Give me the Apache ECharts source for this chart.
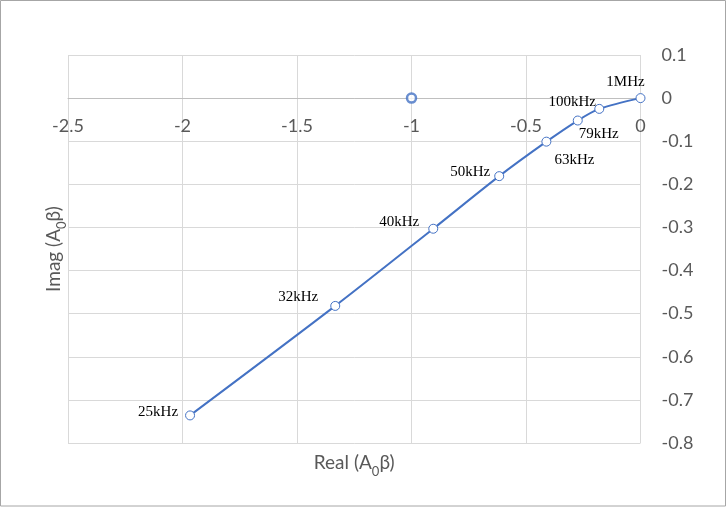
<!DOCTYPE html>
<html>
<head>
<meta charset="utf-8">
<script src="https://cdn.jsdelivr.net/npm/echarts@6/dist/echarts.min.js"></script>
<style>
  html, body { margin: 0; padding: 0; background: #fff; }
  #chart { width: 727px; height: 507px; }
</style>
</head>
<body>
<div id="chart"></div>
<script>
// data
const freqLabels = ['25kHz', '32kHz', '40kHz', '50kHz', '63kHz', '79kHz', '100kHz', '1MHz'];
const realValues = [-1.967, -1.333, -0.905, -0.617, -0.411, -0.274, -0.180, 0];
const imagValues = [-0.736, -0.482, -0.303, -0.181, -0.101, -0.052, -0.025, 0];
const criticalPoint = [-1, 0];

// label placement per frequency (px offset from the marker)
const labelOffsets = {
  '25kHz': [-32, -3],
  '32kHz': [-37, -9],
  '40kHz': [-34, -7],
  '50kHz': [-29, -4],
  '63kHz': [28, 18],
  '79kHz': [21, 14],
  '100kHz': [-27, -7],
  '1MHz': [-15, -16]
};

const blue = '#4472C4';
const axisFont = 'Lato, "Noto Sans", sans-serif';

const chartInstance = echarts.init(document.getElementById('chart'));

const points = realValues.map((x, i) => ({
  value: [x, imagValues[i]],
  name: freqLabels[i],
  label: { offset: labelOffsets[freqLabels[i]] }
}));

const nameStyle = {
  color: '#595959',
  fontSize: 19,
  fontFamily: axisFont,
  rich: {
    sub: { fontSize: 13, fontFamily: axisFont, color: '#595959', verticalAlign: 'bottom', lineHeight: 30 }
  }
};

// grid: top 55, bottom edge at 443 -> y = 0 sits 345px above the bottom
const gridTop = 55, gridBottom = 64, yMin = -0.8, yMax = 0.1;
const plotH = 507 - gridTop - gridBottom;
const zeroShift = plotH * (0 - yMin) / (yMax - yMin);

const option = {
  animation: false,
  grid: { left: 68, right: 86.5, top: gridTop, bottom: gridBottom, containLabel: false, outerBoundsMode: 'none' },
  xAxis: {
    type: 'value',
    min: -2.5,
    max: 0,
    interval: 0.5,
    offset: -zeroShift,
    name: 'Real (A{sub|0}β)',
    nameLocation: 'middle',
    nameGap: 350,
    nameTextStyle: nameStyle,
    axisLine: { onZero: false, lineStyle: { color: '#bfbfbf', width: 1 } },
    axisTick: { show: false },
    axisLabel: { margin: 19, color: '#595959', fontSize: 18, fontFamily: axisFont },
    splitLine: { lineStyle: { color: '#d9d9d9', width: 1 } }
  },
  yAxis: {
    type: 'value',
    position: 'right',
    min: yMin,
    max: yMax,
    interval: 0.1,
    name: 'Imag (A{sub|0}β)',
    nameLocation: 'middle',
    nameRotate: 90,
    nameGap: -602,
    nameTextStyle: nameStyle,
    axisLine: { show: false, onZero: false },
    axisTick: { show: false },
    axisLabel: {
      margin: 21,
      color: '#595959',
      fontSize: 18,
      fontFamily: axisFont,
      formatter: v => String(Math.round(v * 10) / 10)
    },
    splitLine: { lineStyle: { color: '#d9d9d9', width: 1 } }
  },
  series: [
    {
      type: 'line',
      data: points,
      smooth: 0.3,
      symbol: 'circle',
      symbolSize: 9,
      lineStyle: { color: blue, width: 2 },
      itemStyle: { color: '#fff', borderColor: blue, borderWidth: 1 },
      label: {
        show: true,
        position: 'inside',
        formatter: p => p.name,
        color: '#000',
        fontSize: 15,
        fontFamily: '"Liberation Serif", "Times New Roman", serif',
        align: 'center',
        verticalAlign: 'middle'
      },
      z: 3
    },
    {
      type: 'scatter',
      data: [criticalPoint],
      symbol: 'circle',
      symbolSize: 9,
      itemStyle: { color: '#fff', borderColor: blue, borderWidth: 2.5 },
      z: 4
    }
  ],
  graphic: [{
    type: 'rect',
    shape: { x: 0.5, y: 0.5, width: 725, height: 505.5 },
    style: { fill: 'none', stroke: '#a6a6a6', lineWidth: 1 },
    silent: true
  }]
};

chartInstance.setOption(option);
window.addEventListener('resize', () => chartInstance.resize());
</script>
</body>
</html>
